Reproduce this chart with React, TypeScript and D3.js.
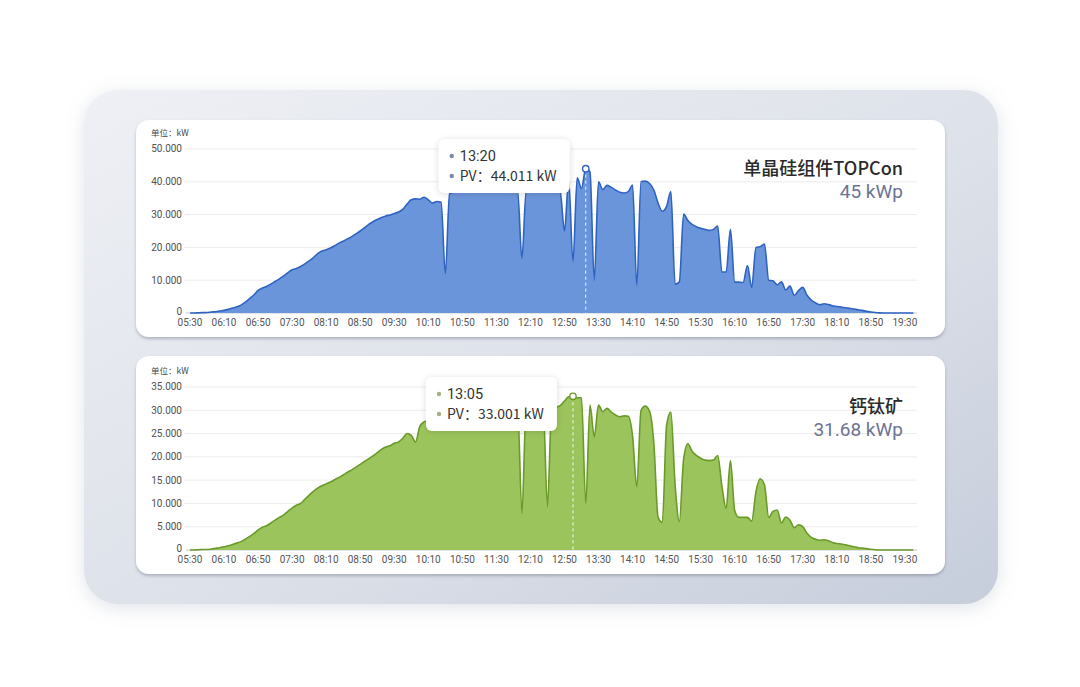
import * as d3 from 'd3';

// ─── Data ───────────────────────────────────────────────────
// 5-minute samples from 05:30 to 19:40 (kW)

const X_TICK_LABELS = [
  '05:30', '06:10', '06:50', '07:30', '08:10', '08:50', '09:30', '10:10',
  '10:50', '11:30', '12:10', '12:50', '13:30', '14:10', '14:50', '15:30',
  '16:10', '16:50', '17:30', '18:10', '18:50', '19:30',
];

const TOPCON_KW = [
  0, 0, 0.05, 0.1, 0.15, 0.3, 0.4, 0.6, 0.8, 1.1,
  1.5, 1.9, 2.4, 3.3, 4.4, 5.5, 6.9, 7.6, 8.1, 8.8,
  9.6, 10.4, 11.3, 12.3, 13.2, 13.6, 14.2, 15.0, 15.9, 16.9,
  18.1, 18.9, 19.3, 19.8, 20.5, 21.3, 21.9, 22.6, 23.3, 24.1,
  25.0, 26.0, 27.0, 27.8, 28.5, 29.1, 29.6, 29.9, 30.3, 30.8,
  31.6, 33.2, 34.5, 34.8, 34.7, 35.3, 34.5, 33.5, 34.0, 33.8,
  12.0, 36.3, 36.8, 37.0, 37.2, 37.3, 37.3, 37.4, 37.3, 37.4,
  37.5, 37.4, 37.4, 37.3, 37.2, 37.1, 37.1, 37.0, 16.6, 37.0,
  37.2, 37.4, 37.5, 37.6, 37.5, 37.6, 37.4, 36.8, 25.0, 40.6,
  15.6, 41.2, 38.0, 44.011, 43.0, 10.0, 40.0, 37.6, 38.9, 38.3,
  37.5, 36.8, 36.6, 37.0, 39.0, 8.5, 40.1, 40.2, 39.5, 37.5,
  33.5, 31.0, 32.5, 37.0, 8.8, 9.5, 30.2, 28.2, 27.0, 26.3,
  25.8, 25.5, 25.2, 25.5, 26.5, 12.5, 12.5, 25.5, 9.5, 9.4,
  9.3, 14.5, 7.8, 20.0, 20.2, 21.0, 10.0, 9.8, 8.6, 9.5,
  7.0, 8.2, 5.4, 6.8, 7.8, 5.4, 3.9, 3.1, 2.5, 2.8,
  2.6, 2.2, 2.0, 1.8, 1.6, 1.4, 1.2, 1.0, 0.8, 0.5,
  0.3, 0.15, 0.05, 0, 0, 0, 0, 0, 0, 0, 0,
];

const PEROVSKITE_KW = [
  0, 0, 0.05, 0.1, 0.1, 0.2, 0.35, 0.5, 0.7, 0.9,
  1.2, 1.5, 1.8, 2.3, 2.9, 3.5, 4.3, 4.9, 5.2, 5.8,
  6.4, 7.0, 7.5, 8.3, 9.0, 9.6, 10.0, 10.9, 11.8, 12.6,
  13.3, 13.8, 14.2, 14.6, 15.1, 15.6, 16.1, 16.7, 17.2, 17.8,
  18.4, 19.0, 19.6, 20.2, 20.9, 21.6, 22.1, 22.4, 22.9, 23.2,
  24.0, 25.0, 24.6, 23.2, 26.5, 27.5, 27.8, 28.0, 28.3, 28.5,
  28.8, 29.0, 29.2, 29.4, 29.6, 29.8, 30.0, 30.1, 30.2, 30.3,
  30.4, 30.4, 30.5, 30.5, 30.6, 30.6, 30.6, 30.5, 7.9, 30.6,
  30.7, 30.7, 30.6, 30.5, 9.3, 30.4, 30.7, 31.0, 32.0, 32.9,
  33.001, 32.7, 32.7, 10.0, 31.1, 24.3, 31.1, 29.7, 30.4, 29.6,
  29.0, 28.6, 28.8, 28.7, 24.5, 13.6, 30.0, 30.9, 29.8, 23.0,
  7.0, 5.9, 26.8, 29.6, 14.0, 6.1, 19.5, 22.8, 21.2, 20.3,
  19.7, 19.3, 19.2, 19.3, 20.3, 13.7, 8.9, 19.2, 8.5, 7.0,
  7.0, 7.0, 6.2, 12.5, 15.3, 14.0, 7.0, 8.3, 8.6, 5.8,
  7.1, 6.4, 4.8, 5.4, 5.0, 3.6, 2.7, 2.3, 2.1, 2.2,
  2.0, 1.6, 1.4, 1.3, 1.1, 0.9, 0.7, 0.5, 0.4, 0.3,
  0.15, 0.05, 0, 0, 0, 0, 0, 0, 0, 0, 0,
];

const TOPCON_Y_TICKS = [0, 10, 20, 30, 40, 50];
const PEROVSKITE_Y_TICKS = [0, 5, 10, 15, 20, 25, 30, 35];

// hovered sample shown in the tooltip
const TOPCON_HOVER = { index: 93, time: '13:20' };
const PEROVSKITE_HOVER = { index: 90, time: '13:05' };

// ─── Constants ──────────────────────────────────────────────

const CJK = '"Noto Sans CJK SC", "Noto Sans", sans-serif';
const NUM = 'Roboto, "Noto Sans", sans-serif';
const W = 1080;
const H = 687;
const CARD = { x: 136, w: 809 };
const PLOT = { left: 190, right: 913.4, gridLeft: 184, gridRight: 917 };

interface ChartCardProps {
  id: string;
  cardTop: number;
  cardHeight: number;
  plotTop: number;
  plotBottom: number;
  data: number[];
  yTicks: number[];
  hover: { index: number; time: string };
  title: string;
  capacity: string;
  fill: string;
  stroke: string;
  dot: string;
}

function ChartCard({
  id, cardTop, cardHeight, plotTop, plotBottom, data, yTicks, hover,
  title, capacity, fill, stroke, dot,
}: ChartCardProps) {
  const x = d3.scaleLinear().domain([0, data.length - 1]).range([PLOT.left, PLOT.right]);
  const y = d3.scaleLinear().domain([0, d3.max(yTicks)!]).range([plotBottom, plotTop]);

  const area = d3.area<number>()
    .x((_, i) => x(i))
    .y0(y(0))
    .y1((d) => y(d))
    .curve(d3.curveMonotoneX);
  const line = d3.line<number>()
    .x((_, i) => x(i))
    .y((d) => y(d))
    .curve(d3.curveMonotoneX);

  const hx = x(hover.index);
  const hy = y(data[hover.index]);
  const tipW = 131;
  const tipH = 54;
  const tipX = hx - 16 - tipW;
  const tipY = plotTop - 10;

  return (
    <g>
      <rect x={CARD.x} y={cardTop} width={CARD.w} height={cardHeight} rx={13}
        fill="#fff" filter="url(#cardShadow)" />

      {/* unit */}
      <text x={151} y={plotTop - 13} fontSize={8.5} fill="#444" fontFamily={CJK}>单位：kW</text>

      {/* grid + y labels */}
      {yTicks.map((t) => (
        <g key={t}>
          {t > 0 && (
            <line x1={PLOT.gridLeft} x2={PLOT.gridRight} y1={y(t)} y2={y(t)}
              stroke="#ececec" strokeWidth={1} />
          )}
          <text x={182} y={y(t) + 3.4 - (t === 0 ? 1 : 0)} textAnchor="end"
            fontSize={10} fill="#505050" fontFamily={NUM}>
            {t === 0 ? '0' : t.toFixed(3)}
          </text>
        </g>
      ))}
      <line x1={PLOT.gridLeft + 2} x2={PLOT.gridRight} y1={y(0)} y2={y(0)} stroke="#c9c9c9" />

      {/* series */}
      <path d={area(data)!} fill={fill} />
      <path d={line(data)!} fill="none" stroke={stroke} strokeWidth={1.6} strokeLinejoin="round" />

      {/* x labels */}
      {X_TICK_LABELS.map((lab, k) => (
        <text key={lab} x={x(k * 8)} y={plotBottom + 13} textAnchor="middle"
          fontSize={10} fill="#555" fontFamily={NUM}>
          {lab}
        </text>
      ))}

      {/* hover pointer */}
      <line x1={hx} x2={hx} y1={hy} y2={y(0)} stroke="#fff" strokeOpacity={0.9}
        strokeWidth={1} strokeDasharray="3 3" />
      <circle cx={hx} cy={hy} r={3.2} fill="#fff" stroke={stroke} strokeWidth={1.4} />

      {/* title */}
      <text x={903} y={plotTop + 26} textAnchor="end" fontSize={18} fontWeight={500}
        fill="#2a2a2a" fontFamily={CJK}>{title}</text>
      <text x={903} y={plotTop + 48.5} textAnchor="end" fontSize={19}
        fill="#6c7393" fontFamily={NUM}>{capacity}</text>

      {/* tooltip */}
      <g id={`${id}-tip`}>
        <rect x={tipX} y={tipY} width={tipW} height={tipH} rx={6} fill="#fff"
          filter="url(#tipShadow)" />
        <circle cx={tipX + 13} cy={tipY + 17} r={2.2} fill={dot} />
        <circle cx={tipX + 13} cy={tipY + 37} r={2.2} fill={dot} />
        <text x={tipX + 21} y={tipY + 22} fontSize={14.5} fill="#333" fontFamily={NUM}>
          {hover.time}
        </text>
        <text x={tipX + 21} y={tipY + 42} fontSize={14} fill="#333" fontFamily={CJK}>
          {`PV：${data[hover.index].toFixed(3)} kW`}
        </text>
      </g>
    </g>
  );
}

export default function App() {
  return (
    <svg width={W} height={H} style={{ position: 'fixed', left: 0, top: 0, background: '#fff' }}>
      <defs>
        <linearGradient id="panelGrad" x1="0" y1="0" x2="1" y2="1">
          <stop offset="0%" stopColor="#eef0f5" />
          <stop offset="55%" stopColor="#dde1e9" />
          <stop offset="100%" stopColor="#c6cddb" />
        </linearGradient>
        <filter id="panelShadow" x="-10%" y="-10%" width="120%" height="125%">
          <feDropShadow dx="0" dy="4" stdDeviation="9" floodColor="#8590a6" floodOpacity="0.25" />
        </filter>
        <filter id="cardShadow" x="-5%" y="-10%" width="110%" height="125%">
          <feDropShadow dx="0" dy="2" stdDeviation="1.6" floodColor="#4d566a" floodOpacity="0.35" />
        </filter>
        <filter id="tipShadow" x="-20%" y="-30%" width="140%" height="170%">
          <feDropShadow dx="0" dy="1" stdDeviation="3" floodColor="#000" floodOpacity="0.15" />
        </filter>
      </defs>

      <rect x={84} y={90} width={914} height={514} rx={34} fill="url(#panelGrad)"
        filter="url(#panelShadow)" />

      <ChartCard
        id="topcon"
        cardTop={120}
        cardHeight={217}
        plotTop={149}
        plotBottom={313}
        data={TOPCON_KW}
        yTicks={TOPCON_Y_TICKS}
        hover={TOPCON_HOVER}
        title="单晶硅组件TOPCon"
        capacity="45 kWp"
        fill="#6b95db"
        stroke="#2f63c2"
        dot="#7d89a9"
      />
      <ChartCard
        id="perovskite"
        cardTop={356}
        cardHeight={218}
        plotTop={387}
        plotBottom={550}
        data={PEROVSKITE_KW}
        yTicks={PEROVSKITE_Y_TICKS}
        hover={PEROVSKITE_HOVER}
        title="钙钛矿"
        capacity="31.68 kWp"
        fill="#9cc45c"
        stroke="#6a9a2a"
        dot="#a3b47f"
      />
    </svg>
  );
}
